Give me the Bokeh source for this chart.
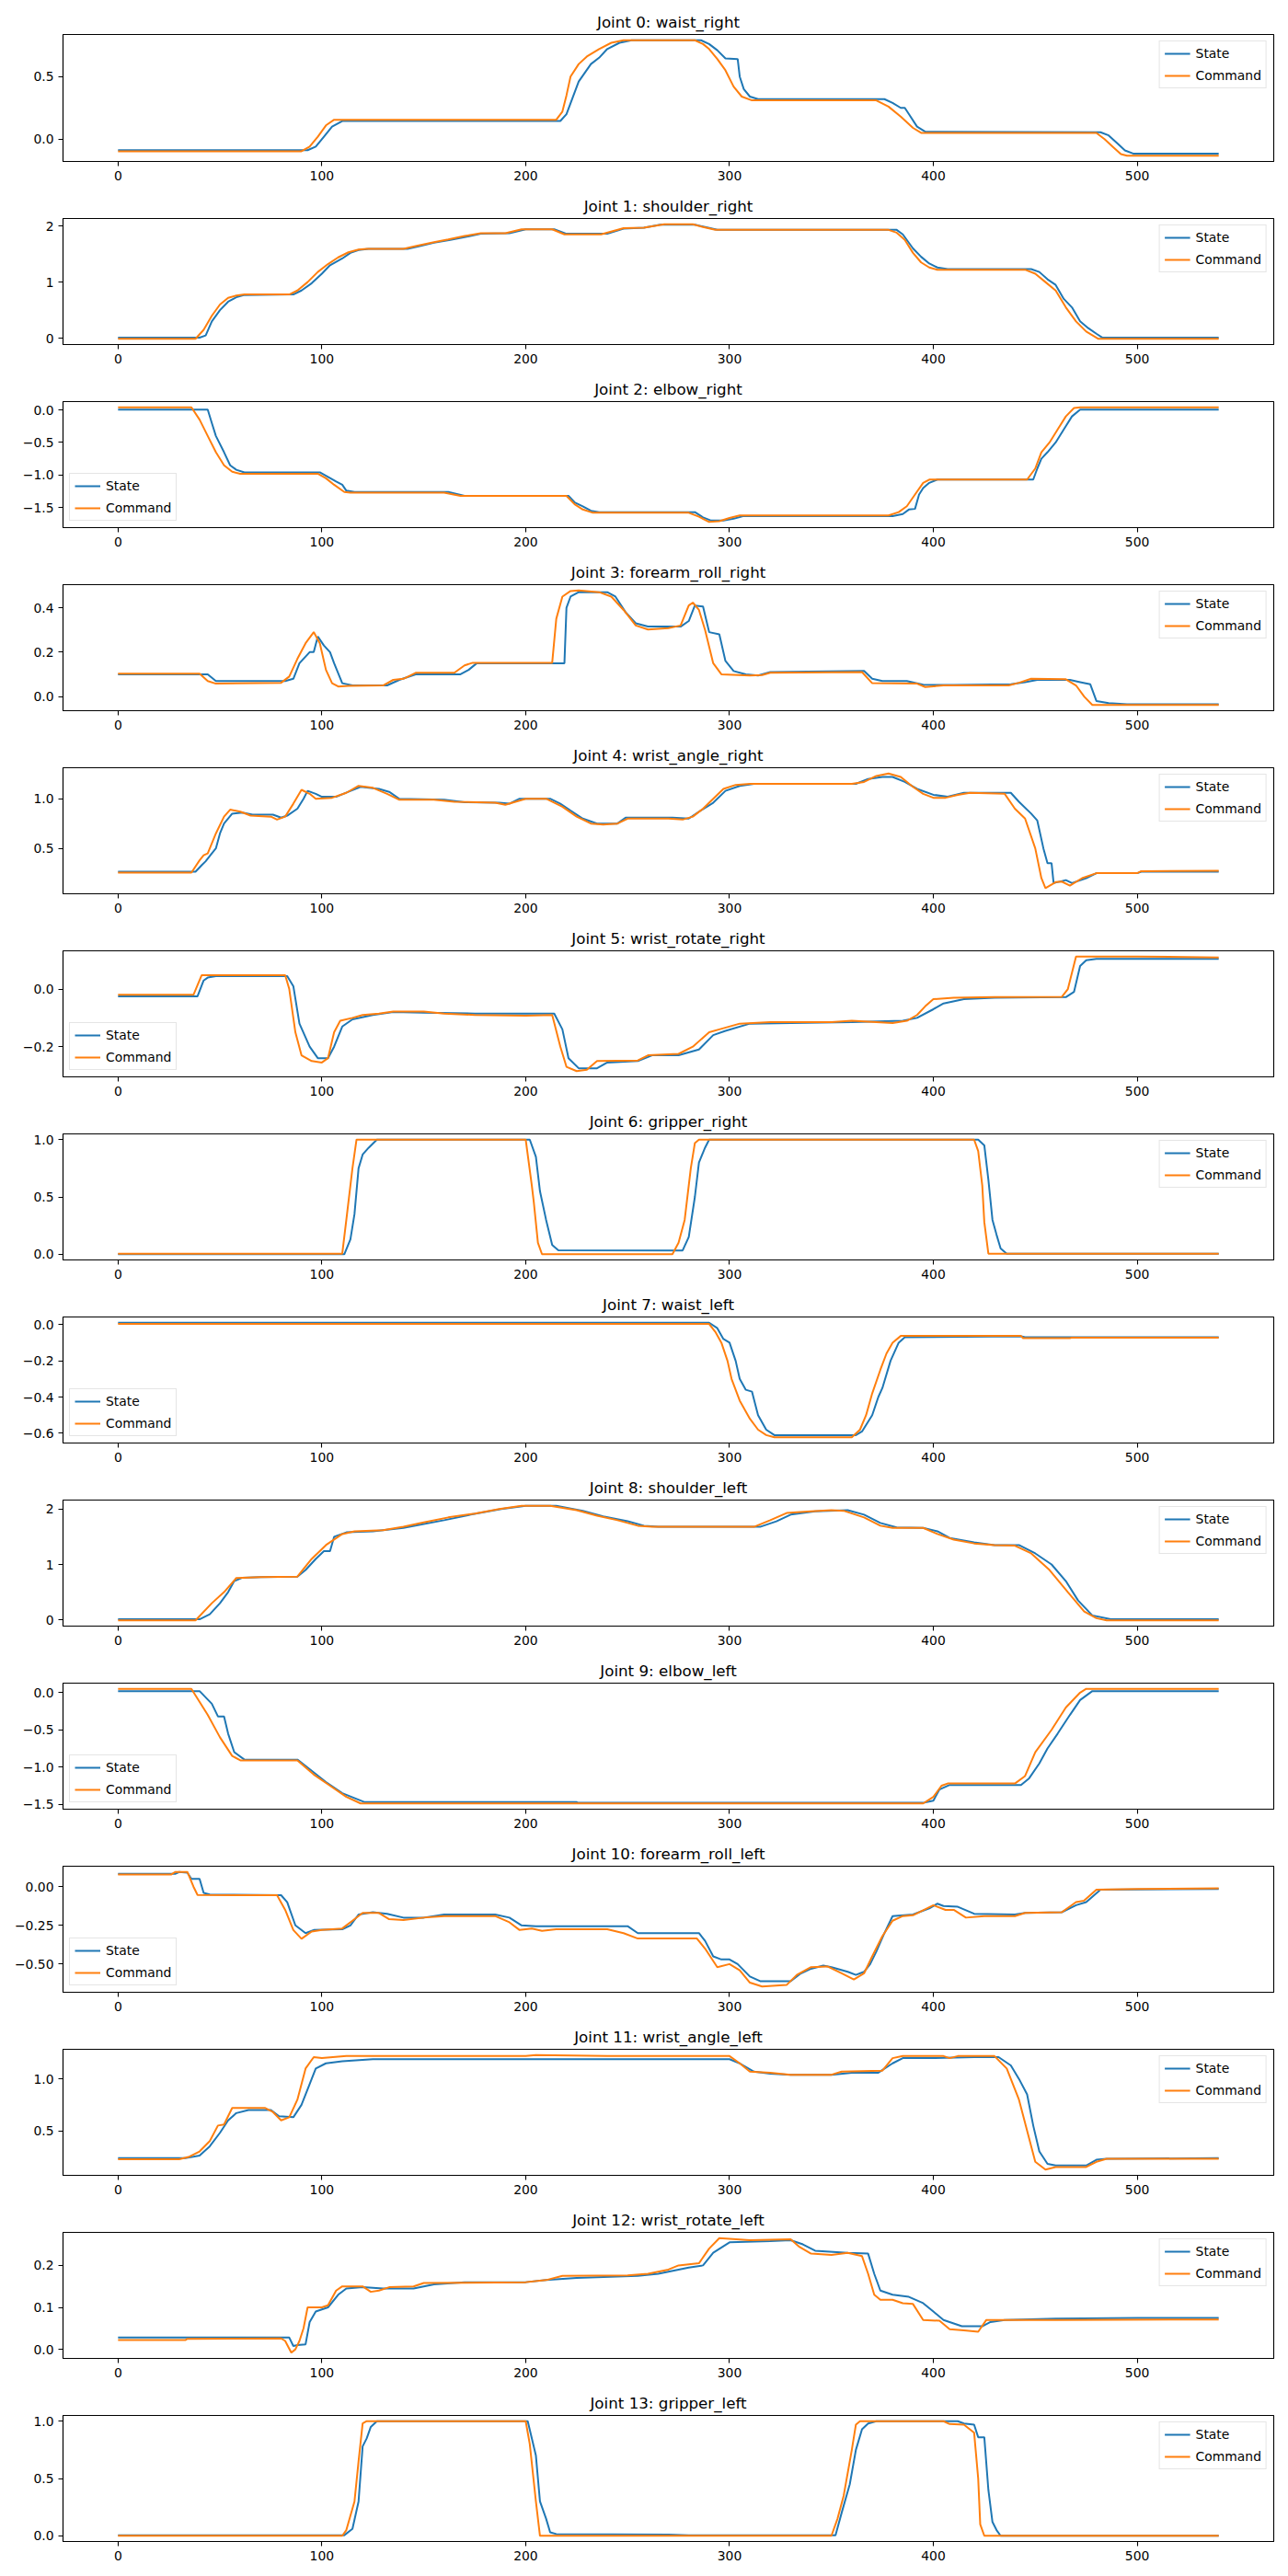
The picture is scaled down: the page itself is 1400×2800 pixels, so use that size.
from bokeh.plotting import figure
from bokeh.layouts import column
from bokeh.models import Range1d, FixedTicker, Legend, LegendItem
from bokeh.embed import file_html
from bokeh.resources import INLINE

JOINT_NAMES = ["waist_right", "shoulder_right", "elbow_right", "forearm_roll_right",
               "wrist_angle_right", "wrist_rotate_right", "gripper_right",
               "waist_left", "shoulder_left", "elbow_left", "forearm_roll_left",
               "wrist_angle_left", "wrist_rotate_left", "gripper_left"]

LEGEND_LOC = ["top_right", "top_right", "bottom_left", "top_right", "top_right", "bottom_left",
              "top_right", "bottom_left", "top_right", "bottom_left", "bottom_left",
              "top_right", "top_right", "top_right"]

X_TICKS = [0, 100, 200, 300, 400, 500]

Y_TICKS = [[0.0, 0.5], [0, 1, 2], [-1.5, -1.0, -0.5, 0.0], [0.0, 0.2, 0.4], [0.5, 1.0],
           [-0.2, 0.0], [0.0, 0.5, 1.0], [-0.6, -0.4, -0.2, 0.0], [0, 1, 2],
           [-1.5, -1.0, -0.5, 0.0], [-0.5, -0.25, 0.0], [0.5, 1.0], [0.0, 0.1, 0.2],
           [0.0, 0.5, 1.0]]
Y_LABELS = [["0.0", "0.5"], ["0", "1", "2"], ["\u22121.5", "\u22121.0", "\u22120.5", "0.0"],
            ["0.0", "0.2", "0.4"], ["0.5", "1.0"], ["\u22120.2", "0.0"], ["0.0", "0.5", "1.0"],
            ["\u22120.6", "\u22120.4", "\u22120.2", "0.0"], ["0", "1", "2"],
            ["\u22121.5", "\u22121.0", "\u22120.5", "0.0"], ["\u22120.50", "\u22120.25", "0.00"],
            ["0.5", "1.0"], ["0.0", "0.1", "0.2"], ["0.0", "0.5", "1.0"]]

j0_state = [(0,-0.088),(93,-0.088),(97,-0.06),(101,0.02),(105,0.1),(110,0.145),(217,0.145),(220,0.2),(223,0.33),(226,0.46),(232,0.6),(236,0.65),(240,0.72),(246,0.77),(252,0.79),(286,0.79),(290,0.76),(294,0.71),(298,0.645),(304,0.64),(305,0.5),(307,0.4),(310,0.34),(314,0.32),(376,0.32),(380,0.29),(384,0.25),(386,0.25),(388,0.2),(392,0.1),(396,0.06),(482,0.055),(486,0.03),(490,-0.03),(494,-0.09),(498,-0.115),(540,-0.115)]
j0_cmd = [(0,-0.097),(90,-0.097),(94,-0.06),(98,0.02),(102,0.11),(106,0.155),(215,0.155),(218,0.22),(220,0.35),(222,0.5),(226,0.6),(230,0.66),(236,0.72),(242,0.77),(248,0.79),(283,0.79),(287,0.76),(290,0.72),(294,0.64),(298,0.55),(302,0.42),(306,0.34),(311,0.31),(372,0.31),(378,0.26),(384,0.18),(390,0.09),(394,0.05),(480,0.05),(484,0.0),(488,-0.06),(492,-0.12),(495,-0.132),(540,-0.132)]

j1_state = [(0,0.01),(40,0.01),(43,0.05),(46,0.3),(50,0.5),(54,0.65),(58,0.73),(62,0.77),(86,0.78),(90,0.85),(95,0.98),(100,1.15),(104,1.3),(110,1.42),(114,1.52),(118,1.57),(123,1.59),(142,1.59),(148,1.64),(155,1.7),(163,1.75),(170,1.8),(178,1.86),(192,1.87),(200,1.94),(214,1.94),(220,1.86),(240,1.86),(248,1.95),(258,1.97),(266,2.02),(283,2.02),(288,1.98),(294,1.93),(382,1.93),(385,1.85),(390,1.6),(394,1.45),(398,1.33),(402,1.26),(407,1.23),(448,1.23),(452,1.18),(456,1.05),(460,0.95),(464,0.7),(468,0.55),(472,0.3),(476,0.18),(480,0.08),(483,0.01),(540,0.01)]
j1_cmd = [(0,-0.01),(38,-0.01),(42,0.15),(46,0.4),(50,0.6),(54,0.72),(58,0.76),(62,0.78),(84,0.78),(88,0.85),(93,1.0),(98,1.18),(103,1.32),(108,1.44),(113,1.53),(118,1.58),(122,1.59),(140,1.59),(147,1.65),(155,1.71),(162,1.76),(170,1.82),(178,1.87),(190,1.87),(198,1.94),(213,1.94),(219,1.85),(237,1.85),(248,1.96),(258,1.97),(268,2.03),(282,2.03),(287,1.98),(293,1.93),(378,1.93),(382,1.88),(386,1.75),(390,1.52),(394,1.35),(398,1.26),(402,1.22),(445,1.22),(450,1.15),(455,1.0),(460,0.85),(465,0.55),(470,0.3),(475,0.12),(481,-0.01),(540,-0.01)]

j2_state = [(0,0.005),(44,0.005),(46,-0.2),(48,-0.4),(52,-0.65),(55,-0.85),(58,-0.92),(62,-0.96),(99,-0.96),(103,-1.03),(107,-1.1),(110,-1.15),(112,-1.24),(116,-1.26),(162,-1.26),(170,-1.32),(221,-1.32),(224,-1.42),(228,-1.48),(232,-1.55),(236,-1.57),(283,-1.57),(287,-1.65),(291,-1.7),(297,-1.7),(302,-1.67),(307,-1.63),(380,-1.63),(385,-1.6),(388,-1.53),(391,-1.52),(393,-1.3),(395,-1.2),(398,-1.12),(402,-1.07),(449,-1.07),(451,-0.9),(453,-0.75),(456,-0.65),(460,-0.5),(464,-0.3),(468,-0.1),(472,0.005),(540,0.005)]
j2_cmd = [(0,0.04),(36,0.04),(40,-0.15),(44,-0.4),(48,-0.65),(52,-0.85),(56,-0.95),(60,-0.98),(98,-0.98),(102,-1.05),(106,-1.15),(111,-1.26),(114,-1.27),(160,-1.27),(168,-1.32),(220,-1.32),(224,-1.45),(228,-1.53),(233,-1.58),(280,-1.58),(285,-1.64),(290,-1.72),(295,-1.71),(300,-1.66),(305,-1.62),(378,-1.62),(383,-1.57),(387,-1.48),(391,-1.3),(395,-1.12),(398,-1.07),(446,-1.07),(450,-0.9),(453,-0.65),(457,-0.5),(461,-0.3),(465,-0.1),(469,0.03),(472,0.04),(540,0.04)]

j3_state = [(0,0.1),(44,0.1),(48,0.07),(82,0.07),(86,0.08),(89,0.15),(94,0.2),(96,0.2),(98,0.27),(101,0.23),(104,0.2),(106,0.15),(110,0.06),(115,0.05),(132,0.05),(138,0.075),(146,0.1),(168,0.1),(172,0.12),(176,0.15),(219,0.15),(220,0.4),(222,0.45),(226,0.47),(240,0.47),(244,0.45),(249,0.38),(254,0.33),(260,0.315),(276,0.315),(280,0.34),(283,0.41),(287,0.405),(290,0.29),(295,0.28),(298,0.16),(302,0.115),(308,0.1),(314,0.095),(320,0.11),(366,0.115),(370,0.08),(375,0.07),(387,0.07),(395,0.053),(410,0.052),(438,0.055),(445,0.065),(451,0.075),(467,0.075),(472,0.065),(477,0.055),(480,-0.02),(486,-0.03),(495,-0.035),(540,-0.035)]
j3_cmd = [(0,0.103),(40,0.103),(44,0.07),(48,0.058),(80,0.062),(84,0.09),(88,0.17),(92,0.24),(96,0.29),(99,0.24),(102,0.12),(105,0.06),(108,0.045),(113,0.048),(130,0.05),(135,0.075),(140,0.08),(146,0.107),(165,0.107),(170,0.14),(174,0.152),(213,0.152),(215,0.35),(218,0.45),(222,0.475),(226,0.478),(236,0.47),(242,0.45),(248,0.39),(254,0.32),(260,0.302),(270,0.308),(276,0.32),(280,0.41),(282,0.423),(285,0.39),(288,0.3),(292,0.15),(296,0.1),(310,0.095),(316,0.097),(320,0.107),(365,0.11),(370,0.06),(392,0.058),(396,0.043),(405,0.05),(437,0.05),(442,0.062),(448,0.08),(465,0.078),(470,0.05),(474,0.0),(478,-0.038),(540,-0.038)]

j4_state = [(0,0.265),(38,0.265),(41,0.33),(43,0.37),(46,0.45),(48,0.5),(50,0.65),(52,0.75),(56,0.85),(61,0.86),(66,0.84),(76,0.84),(80,0.81),(83,0.83),(88,0.9),(91,1.0),(93,1.08),(97,1.05),(100,1.02),(107,1.02),(113,1.07),(119,1.12),(128,1.1),(133,1.07),(138,1.0),(160,0.99),(170,0.965),(187,0.96),(192,0.95),(197,1.0),(212,1.0),(217,0.95),(222,0.88),(228,0.8),(235,0.75),(245,0.75),(249,0.81),(272,0.81),(280,0.8),(285,0.87),(292,0.96),(298,1.08),(305,1.13),(312,1.15),(362,1.15),(368,1.2),(375,1.22),(380,1.22),(386,1.17),(392,1.1),(400,1.04),(407,1.02),(415,1.06),(438,1.06),(442,0.97),(448,0.85),(451,0.78),(454,0.5),(456,0.35),(458,0.35),(459,0.15),(465,0.18),(468,0.15),(475,0.2),(480,0.25),(500,0.25),(502,0.265),(540,0.265)]
j4_cmd = [(0,0.255),(36,0.255),(40,0.38),(42,0.43),(44,0.45),(48,0.65),(52,0.82),(55,0.89),(60,0.87),(65,0.83),(75,0.82),(78,0.79),(82,0.82),(86,0.95),(90,1.09),(94,1.05),(97,1.0),(105,1.01),(112,1.06),(118,1.13),(125,1.11),(132,1.05),(138,0.99),(155,0.99),(165,0.97),(185,0.96),(190,0.94),(195,0.97),(200,1.0),(210,1.0),(218,0.92),(225,0.82),(232,0.75),(238,0.74),(245,0.75),(250,0.8),(270,0.8),(277,0.79),(282,0.82),(287,0.9),(292,1.0),(297,1.1),(303,1.14),(310,1.15),(360,1.15),(366,1.17),(372,1.23),(378,1.255),(384,1.22),(390,1.12),(395,1.05),(400,1.01),(406,1.01),(412,1.04),(418,1.06),(435,1.05),(440,0.9),(445,0.8),(450,0.5),(453,0.2),(455,0.1),(460,0.16),(463,0.165),(467,0.125),(473,0.2),(480,0.25),(500,0.25),(502,0.27),(540,0.275)]

j5_state = [(0,-0.025),(39,-0.025),(42,0.03),(44,0.04),(48,0.045),(83,0.045),(86,0.01),(89,-0.12),(94,-0.2),(98,-0.24),(103,-0.24),(106,-0.2),(110,-0.13),(115,-0.105),(125,-0.09),(135,-0.08),(150,-0.082),(175,-0.085),(214,-0.085),(218,-0.14),(221,-0.24),(226,-0.275),(235,-0.275),(240,-0.255),(255,-0.25),(262,-0.23),(275,-0.23),(285,-0.21),(292,-0.16),(298,-0.145),(310,-0.12),(330,-0.118),(360,-0.115),(385,-0.11),(392,-0.1),(400,-0.07),(405,-0.05),(415,-0.035),(430,-0.03),(465,-0.028),(469,-0.01),(472,0.08),(475,0.1),(480,0.105),(540,0.105)]
j5_cmd = [(0,-0.02),(37,-0.02),(41,0.048),(82,0.048),(84,0.0),(87,-0.15),(90,-0.23),(95,-0.25),(100,-0.255),(103,-0.24),(106,-0.15),(109,-0.11),(115,-0.1),(120,-0.09),(128,-0.085),(135,-0.078),(150,-0.078),(160,-0.085),(175,-0.09),(200,-0.092),(213,-0.09),(217,-0.2),(220,-0.27),(225,-0.285),(230,-0.28),(235,-0.25),(255,-0.248),(260,-0.23),(275,-0.225),(282,-0.2),(290,-0.15),(295,-0.14),(305,-0.12),(320,-0.115),(350,-0.115),(360,-0.11),(380,-0.118),(387,-0.11),(392,-0.09),(396,-0.06),(400,-0.035),(410,-0.03),(430,-0.028),(463,-0.027),(466,0.0),(470,0.113),(500,0.113),(540,0.11)]

j6_state = [(0,0.0),(111,0.0),(114,0.13),(116,0.35),(118,0.75),(120,0.87),(123,0.93),(127,1.0),(202,1.0),(205,0.85),(207,0.55),(210,0.3),(213,0.08),(216,0.035),(277,0.033),(280,0.15),(283,0.5),(285,0.8),(288,0.93),(290,1.0),(422,1.0),(425,0.95),(427,0.65),(429,0.3),(431,0.17),(433,0.05),(436,0.005),(540,0.005)]
j6_cmd = [(0,0.005),(110,0.005),(112,0.3),(115,0.75),(117,1.0),(200,1.0),(203,0.6),(204,0.45),(206,0.1),(208,0.0),(272,0.0),(275,0.1),(278,0.3),(281,0.75),(283,0.97),(285,1.0),(420,1.0),(422,0.9),(424,0.6),(425,0.28),(427,0.005),(540,0.005)]

j7_state = [(0,0.01),(290,0.01),(294,-0.02),(297,-0.08),(300,-0.1),(303,-0.2),(305,-0.3),(308,-0.36),(311,-0.37),(314,-0.5),(318,-0.58),(322,-0.61),(362,-0.61),(365,-0.59),(370,-0.5),(373,-0.4),(375,-0.35),(379,-0.2),(383,-0.1),(386,-0.07),(443,-0.065),(445,-0.07),(540,-0.07)]
j7_cmd = [(0,0.003),(290,0.003),(293,-0.04),(296,-0.1),(299,-0.2),(301,-0.3),(305,-0.42),(310,-0.52),(314,-0.58),(318,-0.61),(322,-0.622),(360,-0.622),(364,-0.58),(367,-0.5),(370,-0.38),(374,-0.25),(377,-0.16),(380,-0.1),(384,-0.063),(443,-0.063),(444,-0.075),(467,-0.075),(468,-0.072),(540,-0.072)]

j8_state = [(0,0.01),(40,0.01),(45,0.1),(50,0.3),(54,0.5),(57,0.7),(61,0.76),(70,0.77),(88,0.78),(92,0.9),(97,1.1),(101,1.24),(104,1.24),(106,1.5),(112,1.58),(125,1.6),(140,1.66),(150,1.73),(160,1.8),(173,1.9),(188,2.0),(200,2.06),(215,2.06),(228,1.97),(238,1.87),(250,1.78),(258,1.7),(265,1.68),(315,1.68),(323,1.78),(330,1.9),(342,1.96),(358,1.98),(366,1.9),(374,1.75),(382,1.67),(395,1.66),(402,1.6),(408,1.48),(420,1.4),(430,1.35),(442,1.35),(450,1.2),(458,1.0),(465,0.7),(471,0.35),(478,0.08),(487,0.01),(540,0.01)]
j8_cmd = [(0,-0.01),(38,-0.01),(46,0.3),(52,0.5),(58,0.755),(70,0.77),(88,0.78),(95,1.1),(102,1.35),(110,1.55),(116,1.6),(130,1.62),(140,1.68),(150,1.76),(162,1.85),(175,1.92),(187,2.0),(198,2.06),(212,2.06),(225,1.98),(235,1.88),(245,1.8),(255,1.7),(262,1.68),(312,1.68),(320,1.8),(328,1.93),(340,1.96),(350,1.98),(356,1.97),(366,1.85),(374,1.7),(380,1.66),(395,1.66),(402,1.55),(410,1.45),(420,1.38),(430,1.35),(440,1.34),(448,1.2),(457,0.9),(466,0.5),(474,0.15),(480,0.03),(485,-0.01),(540,-0.01)]

j9_state = [(0,0.02),(40,0.02),(46,-0.15),(49,-0.32),(52,-0.32),(54,-0.55),(57,-0.8),(62,-0.9),(88,-0.9),(95,-1.05),(102,-1.2),(110,-1.35),(121,-1.47),(225,-1.47),(226,-1.48),(395,-1.48),(400,-1.45),(403,-1.3),(408,-1.24),(443,-1.24),(447,-1.15),(452,-0.95),(456,-0.75),(461,-0.55),(467,-0.3),(472,-0.1),(478,0.02),(540,0.02)]
j9_cmd = [(0,0.05),(36,0.05),(44,-0.3),(50,-0.6),(56,-0.85),(60,-0.91),(88,-0.91),(96,-1.1),(104,-1.25),(112,-1.4),(119,-1.488),(395,-1.488),(400,-1.4),(404,-1.25),(407,-1.22),(440,-1.22),(445,-1.12),(450,-0.8),(458,-0.5),(465,-0.2),(472,0.0),(475,0.05),(540,0.05)]

j10_state = [(0,0.083),(28,0.083),(30,0.095),(34,0.09),(36,0.05),(40,0.05),(42,-0.04),(45,-0.05),(80,-0.055),(83,-0.1),(87,-0.25),(92,-0.3),(96,-0.28),(110,-0.275),(114,-0.25),(118,-0.18),(125,-0.165),(132,-0.175),(140,-0.2),(150,-0.2),(160,-0.18),(185,-0.18),(192,-0.2),(198,-0.25),(205,-0.255),(250,-0.255),(255,-0.3),(285,-0.3),(288,-0.35),(292,-0.45),(296,-0.47),(300,-0.47),(304,-0.5),(310,-0.58),(315,-0.61),(330,-0.61),(335,-0.56),(340,-0.53),(346,-0.51),(350,-0.52),(358,-0.55),(362,-0.57),(366,-0.55),(369,-0.5),(372,-0.42),(376,-0.3),(380,-0.19),(390,-0.18),(398,-0.14),(402,-0.11),(405,-0.125),(412,-0.13),(420,-0.175),(440,-0.18),(445,-0.17),(463,-0.165),(470,-0.12),(475,-0.1),(482,-0.02),(540,-0.015)]
j10_cmd = [(0,0.078),(26,0.078),(28,0.095),(34,0.095),(37,0.0),(39,-0.054),(78,-0.055),(82,-0.15),(86,-0.28),(90,-0.337),(95,-0.29),(100,-0.28),(110,-0.27),(115,-0.22),(120,-0.17),(128,-0.17),(133,-0.21),(140,-0.215),(150,-0.2),(160,-0.19),(185,-0.19),(192,-0.23),(197,-0.28),(203,-0.27),(208,-0.285),(215,-0.275),(240,-0.275),(248,-0.3),(255,-0.335),(284,-0.335),(288,-0.4),(294,-0.52),(300,-0.5),(305,-0.54),(310,-0.62),(316,-0.645),(328,-0.635),(333,-0.57),(340,-0.52),(348,-0.515),(355,-0.56),(361,-0.6),(366,-0.56),(370,-0.45),(375,-0.32),(380,-0.22),(385,-0.19),(390,-0.185),(400,-0.12),(406,-0.15),(410,-0.15),(416,-0.2),(425,-0.19),(440,-0.19),(445,-0.17),(463,-0.165),(470,-0.1),(474,-0.09),(480,-0.02),(500,-0.015),(540,-0.01)]

j11_state = [(0,0.235),(33,0.235),(40,0.26),(45,0.35),(50,0.48),(54,0.6),(58,0.67),(64,0.7),(75,0.7),(79,0.64),(86,0.63),(90,0.75),(94,0.95),(97,1.1),(102,1.15),(110,1.17),(125,1.19),(300,1.19),(305,1.15),(312,1.07),(320,1.05),(330,1.04),(350,1.04),(360,1.06),(373,1.06),(380,1.15),(385,1.2),(400,1.2),(420,1.21),(432,1.21),(438,1.13),(442,1.0),(446,0.85),(449,0.55),(452,0.3),(456,0.18),(460,0.165),(475,0.165),(480,0.22),(485,0.23),(540,0.235)]
j11_cmd = [(0,0.225),(30,0.225),(35,0.25),(40,0.3),(45,0.4),(49,0.55),(52,0.56),(56,0.72),(60,0.72),(72,0.72),(76,0.68),(80,0.6),(84,0.63),(88,0.8),(92,1.1),(96,1.21),(100,1.2),(112,1.22),(200,1.22),(205,1.23),(240,1.22),(300,1.22),(305,1.15),(310,1.07),(320,1.06),(330,1.04),(350,1.04),(355,1.07),(375,1.08),(380,1.2),(385,1.22),(405,1.22),(408,1.2),(412,1.22),(430,1.22),(436,1.1),(442,0.8),(446,0.5),(450,0.2),(455,0.125),(460,0.15),(475,0.15),(480,0.2),(485,0.23),(540,0.23)]

j12_state = [(0,0.028),(84,0.028),(86,0.008),(88,0.01),(92,0.012),(94,0.065),(97,0.09),(103,0.1),(108,0.13),(112,0.145),(120,0.148),(130,0.145),(145,0.145),(155,0.155),(170,0.16),(200,0.16),(210,0.165),(225,0.17),(255,0.175),(265,0.18),(280,0.195),(287,0.2),(292,0.23),(300,0.255),(320,0.258),(330,0.26),(336,0.25),(342,0.235),(358,0.23),(368,0.228),(371,0.18),(374,0.14),(380,0.13),(388,0.125),(395,0.11),(400,0.09),(405,0.07),(414,0.055),(424,0.055),(428,0.065),(435,0.07),(460,0.073),(500,0.075),(540,0.075)]
j12_cmd = [(0,0.022),(33,0.022),(34,0.025),(80,0.026),(82,0.02),(85,-0.008),(87,0.0),(89,0.02),(91,0.05),(93,0.1),(100,0.1),(103,0.105),(107,0.14),(110,0.15),(120,0.15),(124,0.137),(128,0.14),(133,0.148),(145,0.15),(150,0.158),(200,0.16),(210,0.165),(218,0.175),(250,0.176),(260,0.18),(270,0.19),(275,0.2),(285,0.205),(290,0.24),(295,0.265),(310,0.26),(330,0.262),(334,0.245),(340,0.228),(350,0.225),(358,0.23),(365,0.222),(368,0.18),(371,0.13),(374,0.118),(380,0.118),(385,0.11),(390,0.108),(395,0.07),(403,0.068),(408,0.048),(415,0.045),(422,0.042),(426,0.07),(460,0.07),(540,0.071)]

j13_state = [(0,0.005),(111,0.005),(115,0.06),(118,0.3),(120,0.78),(122,0.85),(124,0.95),(127,1.0),(201,1.0),(205,0.7),(207,0.3),(210,0.15),(212,0.03),(215,0.015),(270,0.01),(280,0.005),(352,0.005),(355,0.2),(359,0.45),(362,0.75),(365,0.93),(368,0.98),(372,1.0),(412,1.0),(415,0.98),(420,0.97),(422,0.86),(425,0.86),(427,0.4),(429,0.12),(431,0.05),(433,0.0),(540,0.0)]
j13_cmd = [(0,0.0),(110,0.0),(112,0.05),(116,0.3),(118,0.65),(120,0.98),(122,1.0),(200,1.0),(202,0.8),(205,0.3),(207,0.0),(350,0.0),(353,0.15),(356,0.35),(360,0.75),(362,0.97),(364,1.0),(405,1.0),(408,0.975),(415,0.97),(420,0.9),(422,0.5),(423,0.1),(425,0.0),(540,0.0)]

STATES = [j0_state, j1_state, j2_state, j3_state, j4_state, j5_state, j6_state,
          j7_state, j8_state, j9_state, j10_state, j11_state, j12_state, j13_state]
COMMANDS = [j0_cmd, j1_cmd, j2_cmd, j3_cmd, j4_cmd, j5_cmd, j6_cmd,
            j7_cmd, j8_cmd, j9_cmd, j10_cmd, j11_cmd, j12_cmd, j13_cmd]

BLUE = "#1f77b4"
ORANGE = "#ff7f0e"
FONT = "DejaVu Sans"
PAGE_PAD = 8

figs = []
for i, name in enumerate(JOINT_NAMES):
    st, cm = STATES[i], COMMANDS[i]
    sx = [p[0] for p in st]; sy = [p[1] for p in st]
    cx = [p[0] for p in cm]; cy = [p[1] for p in cm]
    allx = sx + cx
    ally = sy + cy
    x0, x1 = min(allx), max(allx)
    y0, y1 = min(ally), max(ally)
    px = (x1 - x0) * 0.05
    py = (y1 - y0) * 0.05
    top = 29 + (PAGE_PAD if i == 0 else 0)
    p = figure(width=1392, height=170 + top, output_backend="svg", toolbar_location=None,
               x_range=Range1d(x0 - px, x1 + px), y_range=Range1d(y0 - py, y1 + py),
               min_border_left=60 + PAGE_PAD, min_border_right=8, min_border_top=top,
               min_border_bottom=32,
               title="Joint %d: %s" % (i, name))
    p.title.text_font = FONT
    p.title.text_font_size = "16.7px"
    p.title.text_font_style = "normal"
    p.title.align = "center"
    p.title.text_color = "black"
    p.title.standoff = 8
    p.background_fill_color = "white"
    p.border_fill_color = "white"
    p.outline_line_color = "black"
    p.outline_line_width = 1.1
    p.xgrid.visible = False
    p.ygrid.visible = False

    r1 = p.line(sx, sy, line_color=BLUE, line_width=2)
    r2 = p.line(cx, cy, line_color=ORANGE, line_width=2)

    p.xaxis.ticker = FixedTicker(ticks=X_TICKS)
    p.yaxis.ticker = FixedTicker(ticks=Y_TICKS[i])
    p.yaxis.major_label_overrides = {float(t): lab for t, lab in zip(Y_TICKS[i], Y_LABELS[i])}
    for ax in (p.xaxis[0], p.yaxis[0]):
        ax.axis_line_color = "black"
        ax.axis_line_width = 1.1
        ax.major_tick_line_color = "black"
        ax.major_tick_line_width = 1.1
        ax.major_tick_out = 5
        ax.major_tick_in = 0
        ax.minor_tick_out = 0
        ax.minor_tick_in = 0
        ax.major_label_text_font = FONT
        ax.major_label_text_font_size = "13.9px"
        ax.major_label_text_color = "black"
        ax.major_label_standoff = 5

    legend = Legend(items=[LegendItem(label="State", renderers=[r1]),
                           LegendItem(label="Command", renderers=[r2])],
                    location=LEGEND_LOC[i])
    legend.margin = 7
    legend.padding = 5
    legend.spacing = 8
    legend.glyph_width = 28
    legend.glyph_height = 14
    legend.label_height = 14
    legend.label_standoff = 6
    legend.label_text_font = FONT
    legend.label_text_font_size = "13.9px"
    legend.label_text_color = "black"
    legend.border_line_color = "#cccccc"
    legend.border_line_width = 1
    legend.background_fill_color = "white"
    legend.background_fill_alpha = 0.8
    p.add_layout(legend)
    figs.append(p)

layout = column(*figs, spacing=0)
open("out.html", "w").write(file_html(layout, INLINE))
